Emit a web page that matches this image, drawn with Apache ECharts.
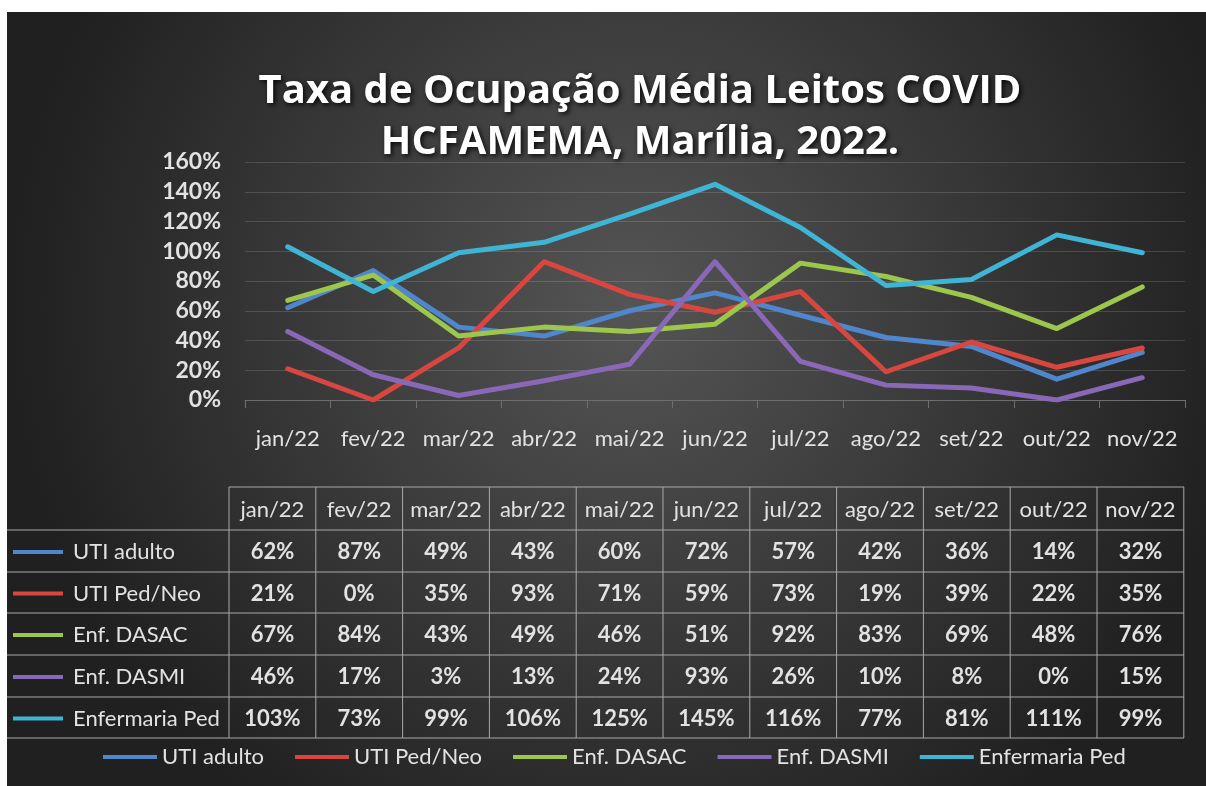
<!DOCTYPE html>
<html>
<head>
<meta charset="utf-8">
<script src="https://cdn.jsdelivr.net/npm/echarts@6/dist/echarts.min.js"></script>
<style>
  html, body { margin: 0; padding: 0; background: #ffffff; }
  #chart { position: absolute; left: 7px; top: 12px; width: 1199px; height: 774px; }
</style>
</head>
<body>
<div id="chart"></div>
<script>
// categorias (meses)
var months = ['jan/22', 'fev/22', 'mar/22', 'abr/22', 'mai/22', 'jun/22', 'jul/22', 'ago/22', 'set/22', 'out/22', 'nov/22']
var seriesNames = ['UTI adulto', 'UTI Ped/Neo', 'Enf. DASAC', 'Enf. DASMI', 'Enfermaria Ped']
// taxa de ocupação em %
var utiAdulto = [62, 87, 49, 43, 60, 72, 57, 42, 36, 14, 32]
var utiPedNeo = [21, 0, 35, 93, 71, 59, 73, 19, 39, 22, 35]
var enfDasac = [67, 84, 43, 49, 46, 51, 92, 83, 69, 48, 76]
var enfDasmi = [46, 17, 3, 13, 24, 93, 26, 10, 8, 0, 15]
var enfPed = [103, 73, 99, 106, 125, 145, 116, 77, 81, 111, 99]
var allData = [utiAdulto, utiPedNeo, enfDasac, enfDasmi, enfPed]
var colors = ['#4f86cc', '#d8473f', '#9cc64c', '#8a68b8', '#3fb4d4']

var font = 'Lato, "Noto Sans", sans-serif'
var titleFont = '"Open Sans", Lato, sans-serif'
var textColor = '#e2e2e2'
var tableLine = '#a8a8a8'

var myChart = echarts.init(document.getElementById('chart'))

// tabela de dados (desenhada com graphic)
var tbl = { left: 222, colW: 86.8, rows: [475, 518, 560, 601, 643, 685, 726], right: 1177 }
var graphics = []

// título
var titleLines = ['Taxa de Ocupação Média Leitos COVID', 'HCFAMEMA, Marília, 2022.']
titleLines.forEach(function(t, i) {
  graphics.push({
    type: 'text', silent: true,
    style: {
      x: 633, y: 80 + i * 51, text: t,
      align: 'center', verticalAlign: 'middle',
      font: 'bold 40px ' + titleFont, fill: '#ffffff',
      textShadowColor: 'rgba(0,0,0,0.85)', textShadowBlur: 5, textShadowOffsetX: 2, textShadowOffsetY: 2
    }
  })
})

// linhas horizontais
tbl.rows.forEach(function(y, i) {
  graphics.push({
    type: 'line', silent: true,
    shape: { x1: i === 0 ? tbl.left : 0, y1: y, x2: tbl.right, y2: y },
    style: { stroke: tableLine, lineWidth: 1 }
  })
})
// linhas verticais
for (var c = 0; c <= months.length; c++) {
  var x = tbl.left + c * tbl.colW
  graphics.push({
    type: 'line', silent: true,
    shape: { x1: x, y1: tbl.rows[0], x2: x, y2: tbl.rows[tbl.rows.length - 1] },
    style: { stroke: tableLine, lineWidth: 1 }
  })
}
// cabeçalho
months.forEach(function(m, c) {
  graphics.push({
    type: 'text', silent: true,
    style: {
      x: tbl.left + (c + 0.5) * tbl.colW, y: (tbl.rows[0] + tbl.rows[1]) / 2 + 1,
      text: m, align: 'center', verticalAlign: 'middle',
      font: '22px ' + font, fill: textColor
    }
  })
})
// linhas da tabela
allData.forEach(function(arr, r) {
  var yMid = (tbl.rows[r + 1] + tbl.rows[r + 2]) / 2 + 1
  graphics.push({
    type: 'line', silent: true,
    shape: { x1: 6, y1: yMid, x2: 56, y2: yMid },
    style: { stroke: colors[r], lineWidth: 4 }
  })
  graphics.push({
    type: 'text', silent: true,
    style: {
      x: 66, y: yMid, text: seriesNames[r], align: 'left', verticalAlign: 'middle',
      font: '22px ' + font, fill: textColor
    }
  })
  arr.forEach(function(v, c) {
    graphics.push({
      type: 'text', silent: true,
      style: {
        x: tbl.left + (c + 0.5) * tbl.colW, y: yMid,
        text: v + '%', align: 'center', verticalAlign: 'middle',
        font: 'bold 22px ' + font, fill: textColor
      }
    })
  })
})

var option = {
  backgroundColor: {
    type: 'radial', x: 0.52, y: 0.38, r: 0.8,
    colorStops: [
      { offset: 0, color: '#555555' },
      { offset: 1, color: '#202020' }
    ]
  },
  textStyle: { fontFamily: font },
  grid: { left: 238, top: 150, width: 940, height: 238 },
  legend: {
    data: seriesNames,
    left: 91,
    top: 729,
    icon: 'rect',
    itemWidth: 54,
    itemHeight: 4,
    itemGap: 31,
    textStyle: { color: textColor, fontSize: 22, fontFamily: font }
  },
  xAxis: {
    type: 'category',
    data: months,
    boundaryGap: true,
    axisLine: { lineStyle: { color: '#6e6e6e', width: 1 } },
    axisTick: { show: true, length: 8, lineStyle: { color: '#6e6e6e' } },
    axisLabel: { interval: 0, color: textColor, fontSize: 22, margin: 28, fontFamily: font }
  },
  yAxis: {
    type: 'value',
    min: 0,
    max: 160,
    interval: 20,
    axisLine: { show: false },
    axisTick: { show: false },
    splitLine: { lineStyle: { color: 'rgba(255,255,255,0.14)', width: 1 } },
    axisLabel: {
      formatter: '{value}%', color: textColor, fontSize: 23, fontWeight: 'bold',
      margin: 24, fontFamily: font
    }
  },
  graphic: graphics,
  series: seriesNames.map(function(name, i) {
    return {
      name: name,
      type: 'line',
      data: allData[i],
      symbol: 'none',
      color: colors[i],
      lineStyle: { width: 5, color: colors[i], cap: 'round', join: 'round' }
    }
  })
}
myChart.setOption(option)
</script>
</body>
</html>
